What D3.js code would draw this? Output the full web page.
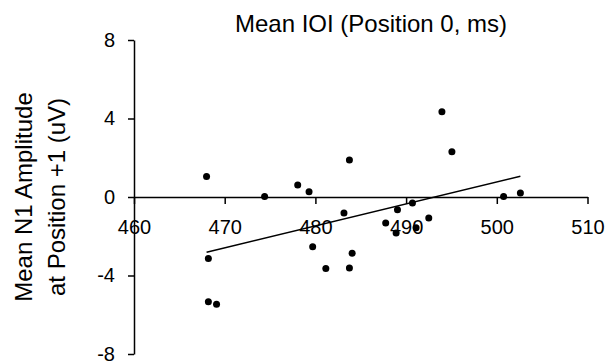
<!DOCTYPE html>
<html lang="en">
<head>
<meta charset="utf-8">
<title>Mean N1 vs Mean IOI</title>
<script src="https://d3js.org/d3.v7.min.js"></script>
<style>
  body { margin: 0; background: #fff; }
  svg text { font-family: "Liberation Sans", Arial, sans-serif; fill: #000; }
</style>
</head>
<body>
<script>
// values
var meanIOI = [468.0, 474.4, 478.05, 479.3, 468.2, 479.7, 481.15, 468.2, 469.1, 483.75, 483.15, 489.05,
               490.7, 487.75, 488.9, 491.1, 492.5, 484.05, 483.75, 493.95, 495.05, 500.75, 502.6];
var meanN1 = [1.04, 0.02, 0.61, 0.27, -3.13, -2.54, -3.64, -5.34, -5.47, 1.89, -0.82, -0.65,
              -0.31, -1.33, -1.84, -1.57, -1.07, -2.86, -3.62, 4.35, 2.31, 0.02, 0.20];
var xTicks = [460, 470, 480, 490, 500, 510];
var yTicks = [-8, -4, 0, 4, 8];

var w = 606, h = 363;

var xScale = d3.scaleLinear().domain([460, 510]).range([134, 587.5]);
var yScale = d3.scaleLinear().domain([-8, 8]).range([354, 40]);

var svg = d3.select("body").append("svg").attr("width", w).attr("height", h);

// plain hyphen for negatives, like the original
var plain = function(d) { return String(d); };

// x axis sits on y = 0
var xAxis = d3.axisBottom(xScale).tickValues(xTicks).tickFormat(plain)
  .tickSize(7).tickSizeOuter(0).tickPadding(16);
var gx = svg.append("g")
  .attr("transform", "translate(0," + yScale(0) + ")")
  .call(xAxis);
gx.selectAll("text").style("font-size", "20px");

var yAxis = d3.axisLeft(yScale).tickValues(yTicks).tickFormat(plain)
  .tickSize(6).tickSizeOuter(0).tickPadding(13);
var gy = svg.append("g")
  .attr("transform", "translate(" + xScale(460) + ",0)")
  .call(yAxis);
gy.selectAll("text").style("font-size", "20px");

svg.selectAll(".domain, .tick line").attr("stroke", "#000").attr("stroke-width", 1.5);

// least squares trend line over the data range
var mx = d3.mean(meanIOI), my = d3.mean(meanN1);
var sxy = d3.sum(meanIOI, function(d, i) { return (d - mx) * (meanN1[i] - my); });
var sxx = d3.sum(meanIOI, function(d) { return (d - mx) * (d - mx); });
var slope = sxy / sxx;
var x0 = d3.min(meanIOI), x1 = d3.max(meanIOI);
svg.append("line")
  .attr("x1", xScale(x0)).attr("y1", yScale(my + slope * (x0 - mx)))
  .attr("x2", xScale(x1)).attr("y2", yScale(my + slope * (x1 - mx)))
  .attr("stroke", "#000").attr("stroke-width", 1.5);

svg.selectAll("circle")
  .data(meanIOI)
  .enter()
  .append("circle")
  .attr("cx", function(d) { return xScale(d); })
  .attr("cy", function(d, i) { return yScale(meanN1[i]); })
  .attr("r", 3.5)
  .attr("fill", "#000");

// titles
svg.append("text")
  .attr("x", 371).attr("y", 32)
  .attr("text-anchor", "middle")
  .style("font-size", "24px")
  .text("Mean IOI (Position 0, ms)");

var yt = svg.append("text")
  .attr("transform", "translate(32," + yScale(0) + ") rotate(-90)")
  .attr("text-anchor", "middle")
  .style("font-size", "24px");
yt.append("tspan").attr("x", 0).attr("y", 0).text("Mean N1 Amplitude");
yt.append("tspan").attr("x", 0).attr("y", 33).text("at Position +1 (uV)");
</script>
</body>
</html>
